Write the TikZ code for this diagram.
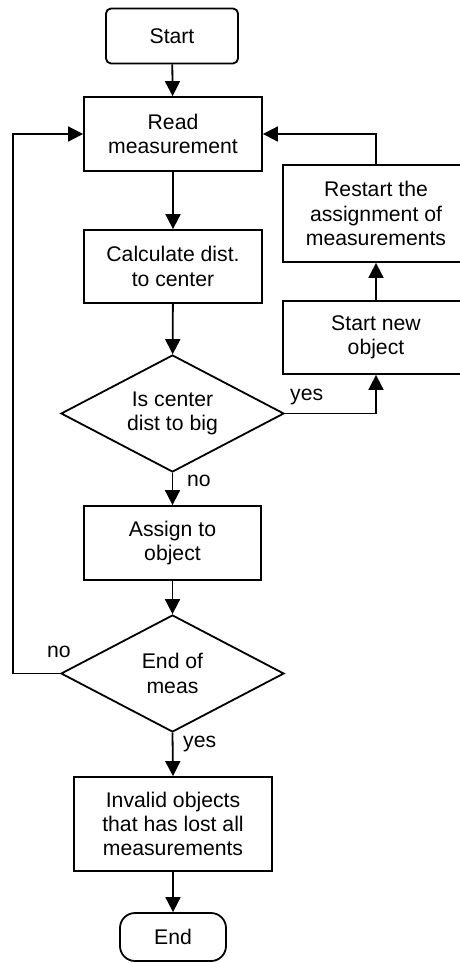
\documentclass[tikz,border=0pt]{standalone}
\usepackage{fontspec}
\setmainfont{Liberation Sans}
\usetikzlibrary{shapes.geometric,arrows.meta}
\begin{document}
\begin{tikzpicture}[x=1pt,y=-1pt,
  every node/.style={font=\fontsize{21.2}{24.3}\selectfont},
  box/.style={draw, line width=1.8pt, align=center, inner sep=0pt, rectangle},
  terminal/.style={box, rounded corners=#1},
  decision/.style={draw, line width=1.8pt, align=center, inner sep=0pt, diamond,
    aspect=1.9, minimum width=223pt, minimum height=117pt},
  flow/.style={line width=1.8pt, -{Triangle[length=15pt,width=15pt]}},
  lbl/.style={inner sep=0pt, anchor=west}]
  \clip (0,0) rectangle (460,963);

  % main column
  \node[terminal=5pt, minimum width=132pt, minimum height=55pt] (start) at (172,36) {Start};
  \node[box, minimum width=178pt, minimum height=74pt] (read) at (173,134) {Read\\measurement};
  \node[box, minimum width=178pt, minimum height=73pt] (calc) at (173,266.5) {Calculate dist.\\to center};
  \node[decision] (big) at (172.5,413.5) {Is center\\dist to big};
  \node[box, minimum width=177pt, minimum height=74pt] (assign) at (172.5,543) {Assign to\\object};
  \node[decision] (endm) at (172.5,673.5) {End of\\meas};
  \node[box, minimum width=198pt, minimum height=94pt] (invalid) at (173,824) {Invalid objects\\that has lost all\\measurements};
  \node[terminal=15pt, minimum width=106pt, minimum height=48pt] (stop) at (173,937) {End};

  % right column
  \node[box, minimum width=186pt, minimum height=73pt] (newobj) at (376,337.5) {Start new\\object};
  \node[box, minimum width=186pt, minimum height=97pt] (restart) at (376,213.5) {Restart the\\assignment of\\measurements};

  % return path on the left
  \coordinate (lx) at (13,0);

  % connectors
  \draw[flow] (start) -- (read);
  \draw[flow] (read) -- (calc);
  \draw[flow] (calc) -- (big);
  \draw[flow] (big.south) -- (assign.north);
  \draw[flow] (assign) -- (endm);
  \draw[flow] (endm.south) -- (invalid.north);
  \draw[flow] (invalid) -- (stop);
  \draw[flow] (big.east) -| (newobj.south);
  \draw[flow] (newobj) -- (restart);
  \draw[flow] (restart.north) |- (read.east);
  \draw[flow] (endm.west) -- (endm.west -| lx) |- (read.west);

  % branch labels
  \node[lbl] (yes1) at (290,397) {yes};
  \node[lbl] (no1) at (187,481) {no};
  \node[lbl] (no2) at (47,652) {no};
  \node[lbl] (yes2) at (183,744) {yes};
\end{tikzpicture}
\end{document}
